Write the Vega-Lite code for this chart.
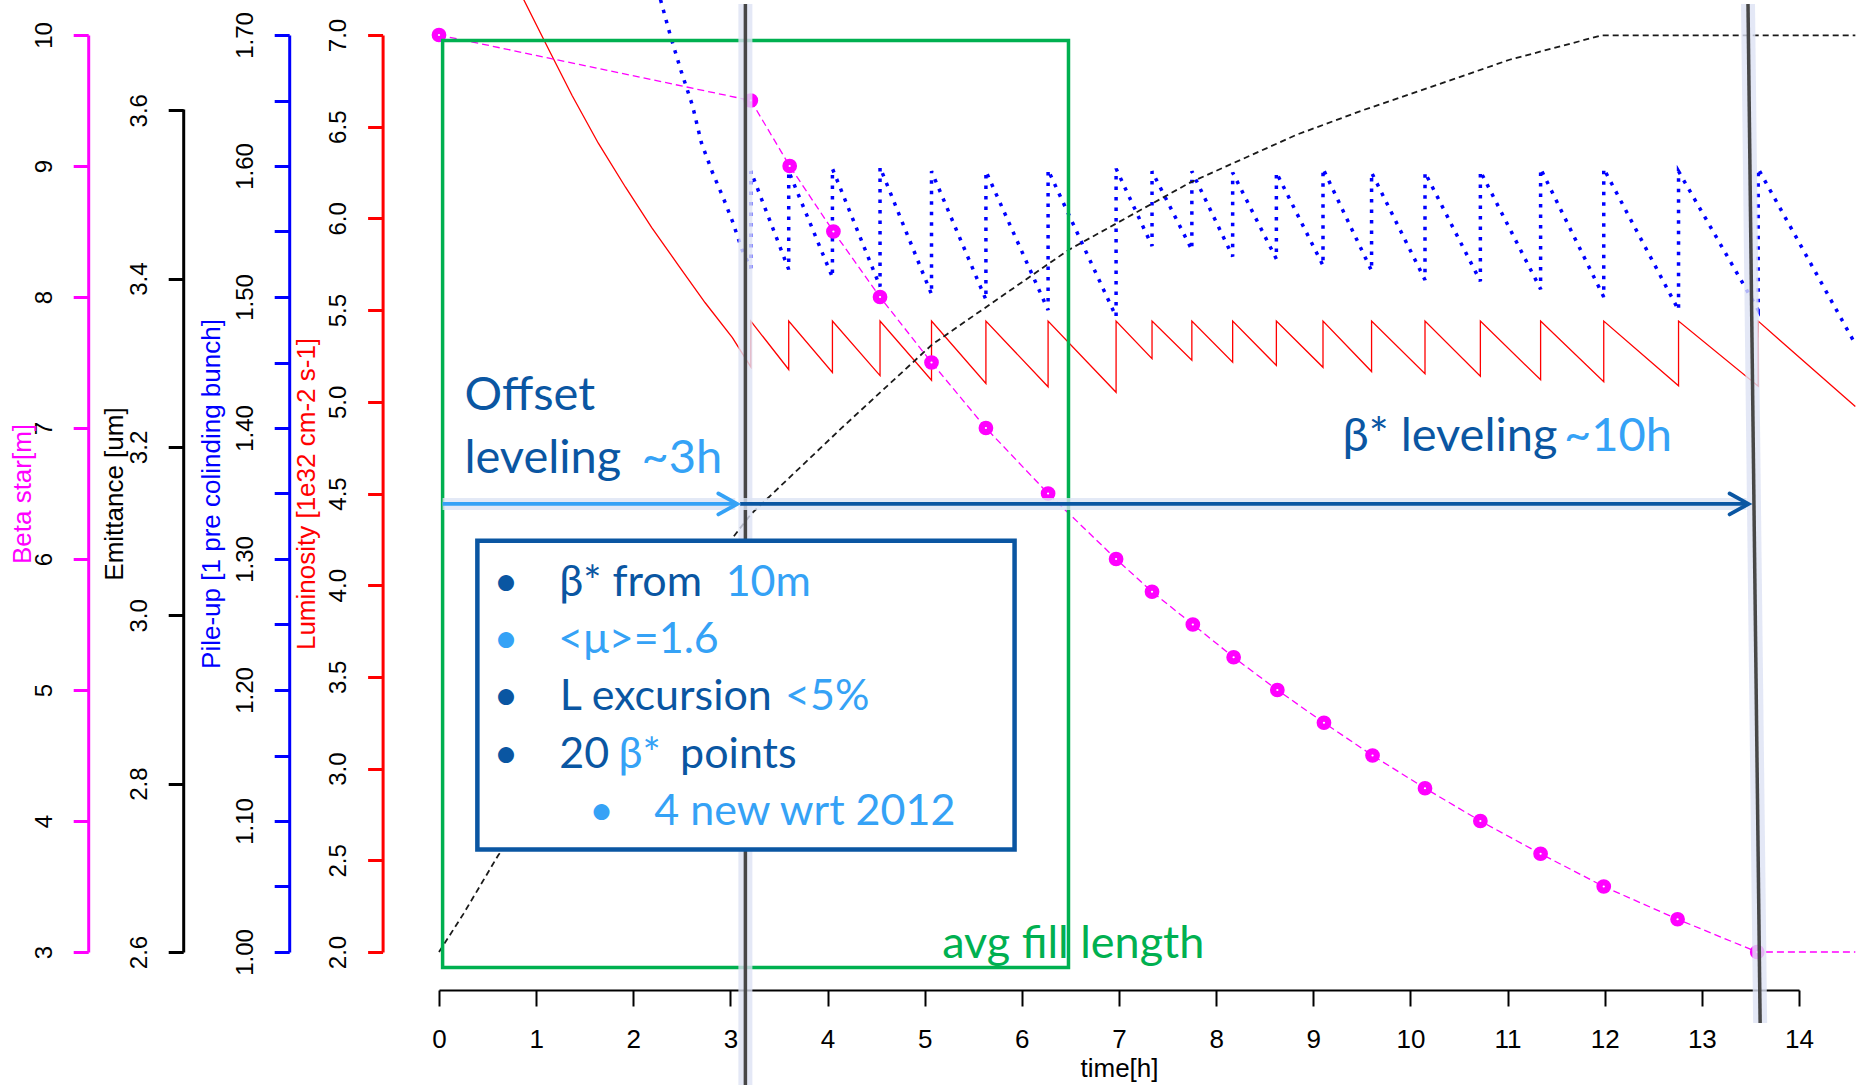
{
  "$schema": "https://vega.github.io/schema/vega-lite/v6.json",
  "width": 1360,
  "height": 917,
  "autosize": {"type": "none"},
  "padding": {"left": 439, "top": 35, "right": 67, "bottom": 133},
  "background": "white",
  "config": {
    "view": {"stroke": null},
    "axis": {"grid": false, "labelFont": "Liberation Sans", "titleFont": "Liberation Sans", "titleFontWeight": "normal"}
  },
  "datasets": {
    "red": [
      {"i":0,"t":0.87,"v":7.195},{"i":1,"t":1.14,"v":6.91},{"i":2,"t":1.37,"v":6.67},{"i":3,"t":1.64,"v":6.41},{"i":4,"t":1.92,"v":6.17},{"i":5,"t":2.19,"v":5.95},{"i":6,"t":2.47,"v":5.74},{"i":7,"t":2.74,"v":5.54},{"i":8,"t":3.02,"v":5.35},{"i":9,"t":3.21,"v":5.19},
      {"i":10,"t":3.21,"v":5.44},{"i":11,"t":3.60,"v":5.176},{"i":12,"t":3.60,"v":5.44},{"i":13,"t":4.05,"v":5.16},{"i":14,"t":4.05,"v":5.44},{"i":15,"t":4.54,"v":5.143},{"i":16,"t":4.54,"v":5.44},{"i":17,"t":5.07,"v":5.118},{"i":18,"t":5.07,"v":5.44},{"i":19,"t":5.63,"v":5.10},{"i":20,"t":5.63,"v":5.44},
      {"i":21,"t":6.27,"v":5.082},{"i":22,"t":6.27,"v":5.44},{"i":23,"t":6.97,"v":5.052},{"i":24,"t":6.97,"v":5.44},{"i":25,"t":7.34,"v":5.235},{"i":26,"t":7.34,"v":5.44},{"i":27,"t":7.75,"v":5.227},{"i":28,"t":7.75,"v":5.44},{"i":29,"t":8.17,"v":5.216},{"i":30,"t":8.17,"v":5.44},
      {"i":31,"t":8.62,"v":5.198},{"i":32,"t":8.62,"v":5.44},{"i":33,"t":9.10,"v":5.188},{"i":34,"t":9.10,"v":5.44},{"i":35,"t":9.60,"v":5.165},{"i":36,"t":9.60,"v":5.44},{"i":37,"t":10.15,"v":5.153},{"i":38,"t":10.15,"v":5.44},{"i":39,"t":10.72,"v":5.14},{"i":40,"t":10.72,"v":5.44},
      {"i":41,"t":11.34,"v":5.12},{"i":42,"t":11.34,"v":5.44},{"i":43,"t":11.99,"v":5.11},{"i":44,"t":11.99,"v":5.44},{"i":45,"t":12.76,"v":5.087},{"i":46,"t":12.76,"v":5.44},{"i":47,"t":13.58,"v":5.085},{"i":48,"t":13.58,"v":5.44},{"i":49,"t":14.58,"v":4.974}
    ],
    "blue": [
      {"i":0,"t":2.28,"v":1.727},{"i":1,"t":2.38,"v":1.700},{"i":2,"t":2.49,"v":1.673},{"i":3,"t":2.61,"v":1.646},{"i":4,"t":2.70,"v":1.618},{"i":5,"t":2.81,"v":1.596},{"i":6,"t":2.93,"v":1.575},{"i":7,"t":3.02,"v":1.558},{"i":8,"t":3.12,"v":1.536},{"i":9,"t":3.21,"v":1.522},
      {"i":10,"t":3.21,"v":1.596},{"i":11,"t":3.60,"v":1.521},{"i":12,"t":3.60,"v":1.596},{"i":13,"t":4.05,"v":1.515},{"i":14,"t":4.05,"v":1.598},{"i":15,"t":4.54,"v":1.508},{"i":16,"t":4.54,"v":1.599},{"i":17,"t":5.07,"v":1.502},{"i":18,"t":5.07,"v":1.596},{"i":19,"t":5.63,"v":1.498},{"i":20,"t":5.63,"v":1.596},
      {"i":21,"t":6.27,"v":1.490},{"i":22,"t":6.27,"v":1.597},{"i":23,"t":6.97,"v":1.485},{"i":24,"t":6.97,"v":1.598},{"i":25,"t":7.34,"v":1.539},{"i":26,"t":7.34,"v":1.596},{"i":27,"t":7.75,"v":1.536},{"i":28,"t":7.75,"v":1.596},{"i":29,"t":8.17,"v":1.531},{"i":30,"t":8.17,"v":1.595},
      {"i":31,"t":8.62,"v":1.529},{"i":32,"t":8.62,"v":1.595},{"i":33,"t":9.10,"v":1.524},{"i":34,"t":9.10,"v":1.598},{"i":35,"t":9.60,"v":1.520},{"i":36,"t":9.60,"v":1.595},{"i":37,"t":10.15,"v":1.513},{"i":38,"t":10.15,"v":1.595},{"i":39,"t":10.72,"v":1.512},{"i":40,"t":10.72,"v":1.596},
      {"i":41,"t":11.34,"v":1.506},{"i":42,"t":11.34,"v":1.598},{"i":43,"t":11.99,"v":1.500},{"i":44,"t":11.99,"v":1.598},{"i":45,"t":12.76,"v":1.490},{"i":46,"t":12.76,"v":1.596},{"i":47,"t":13.58,"v":1.490},{"i":48,"t":13.58,"v":1.598},{"i":49,"t":14.58,"v":1.464}
    ],
    "emit": [
      {"t":0,"v":2.6},{"t":0.25,"v":2.645},{"t":0.61,"v":2.715},{"t":3.01,"v":3.09},{"t":3.21,"v":3.12},{"t":4.14,"v":3.222},{"t":5.08,"v":3.322},{"t":6.48,"v":3.434},{"t":7.73,"v":3.514},{"t":8.83,"v":3.571},{"t":9.51,"v":3.60},{"t":10.27,"v":3.63},{"t":11.02,"v":3.66},{"t":11.97,"v":3.689},{"t":14.58,"v":3.689}
    ],
    "beta": [
      {"t":0,"v":10,"m":1},{"t":3.21,"v":9.5,"m":1},{"t":3.61,"v":9.0,"m":1},{"t":4.06,"v":8.5,"m":1},{"t":4.54,"v":8.0,"m":1},{"t":5.07,"v":7.5,"m":1},{"t":5.63,"v":7.0,"m":1},{"t":6.27,"v":6.5,"m":1},{"t":6.97,"v":6.0,"m":1},{"t":7.34,"v":5.75,"m":1},{"t":7.76,"v":5.5,"m":1},
      {"t":8.18,"v":5.25,"m":1},{"t":8.63,"v":5.0,"m":1},{"t":9.11,"v":4.75,"m":1},{"t":9.61,"v":4.5,"m":1},{"t":10.15,"v":4.25,"m":1},{"t":10.72,"v":4.0,"m":1},{"t":11.34,"v":3.75,"m":1},{"t":11.99,"v":3.5,"m":1},{"t":12.75,"v":3.25,"m":1},{"t":13.57,"v":3.0,"m":1},{"t":14.58,"v":3.0,"m":0}
    ],
    "frame": [{"t":0.037,"t2":6.48,"v":6.970,"v2":1.915}],
    "vlines": [{"t":3.154,"t2":3.154,"v":7.169,"v2":1.275},{"t":13.475,"t2":13.60,"v":7.169,"v2":1.613}],
    "arrows": [{"t":0.037,"t2":3.05,"v":4.443,"tone":"light"},{"t":3.10,"t2":13.46,"v":4.443,"tone":"dark"}],
    "heads": [{"t":3.07,"v":4.443,"tone":"light"},{"t":13.48,"v":4.443,"tone":"dark"}],
    "box": [{"t":0.395,"t2":5.925,"v":4.242,"v2":2.559}],
    "bigtext": [
      {"t":0.262,"v":4.955,"txt":"Offset","tone":"dark"},
      {"t":0.262,"v":4.611,"txt":"leveling","tone":"dark"},
      {"t":2.085,"v":4.611,"txt":"~3h","tone":"light"},
      {"t":9.30,"v":4.733,"txt":"β* leveling","tone":"dark"},
      {"t":11.58,"v":4.733,"txt":"~10h","tone":"light"}
    ],
    "boxtext": [
      {"t":1.238,"v":3.943,"txt":"β* from","tone":"dark"},
      {"t":2.951,"v":3.943,"txt":"10m","tone":"light"},
      {"t":1.227,"v":3.629,"txt":"<μ>=1.6","tone":"light"},
      {"t":1.244,"v":3.318,"txt":"L excursion","tone":"dark"},
      {"t":3.562,"v":3.318,"txt":"<5%","tone":"light"},
      {"t":1.238,"v":3.004,"txt":"20","tone":"dark"},
      {"t":1.849,"v":3.004,"txt":"β*","tone":"light"},
      {"t":2.482,"v":3.004,"txt":"points","tone":"dark"},
      {"t":2.216,"v":2.695,"txt":"4 new wrt 2012","tone":"light"}
    ],
    "bullets": [
      {"t":0.689,"v":3.943,"tone":"dark"},{"t":0.689,"v":3.629,"tone":"light"},{"t":0.689,"v":3.318,"tone":"dark"},{"t":0.689,"v":3.004,"tone":"dark"},{"t":1.673,"v":2.695,"tone":"light"}
    ],
    "green": [{"t":5.18,"v":1.968,"txt":"avg fill length"}]
  },
  "resolve": {"scale": {"y": "independent"}},
  "layer": [
    {
      "data": {"name": "red"},
      "mark": {"type": "line", "color": "#FF0000", "strokeWidth": 1.3},
      "encoding": {
        "x": {"field": "t", "type": "quantitative", "title": "time[h]", "scale": {"domain": [0, 14], "nice": false, "zero": false},
          "axis": {"orient": "bottom", "offset": 38, "values": [0,1,2,3,4,5,6,7,8,9,10,11,12,13,14], "format": ".0f",
            "tickSize": 16, "tickWidth": 2, "tickColor": "#000000", "domainColor": "#000000", "domainWidth": 2,
            "labelFontSize": 26, "labelColor": "#000000", "labelPadding": 20, "labelFlush": false, "labelOverlap": false,
            "title": "time[h]", "titleFontSize": 26, "titleColor": "#000000", "titleY": 86, "titleBaseline": "alphabetic"}},
        "y": {"field": "v", "type": "quantitative", "scale": {"domain": [2, 7], "nice": false, "zero": false},
          "axis": {"orient": "left", "offset": 56.4, "values": [2,2.5,3,3.5,4,4.5,5,5.5,6,6.5,7], "format": ".1f",
            "tickSize": 15, "tickWidth": 3, "tickColor": "#FF0000", "domainColor": "#FF0000", "domainWidth": 3,
            "labelAngle": 270, "labelAlign": "center", "labelBaseline": "middle", "labelPadding": 29, "labelFontSize": 24, "labelColor": "#000000", "labelFlush": false, "labelOverlap": false,
            "title": "Luminosity [1e32 cm-2 s-1]", "titleColor": "#FF0000", "titleFontSize": 26, "titleAngle": 270, "titleX": -67.7, "titleY": 458.5, "titleAlign": "center", "titleBaseline": "alphabetic"}},
        "order": {"field": "i", "type": "quantitative"}
      }
    },
    {
      "data": {"name": "blue"},
      "mark": {"type": "line", "color": "#0000FF", "strokeWidth": 3.5, "strokeDash": [3.5, 7]},
      "encoding": {
        "x": {"field": "t", "type": "quantitative", "title": "time[h]", "scale": {"domain": [0, 14], "nice": false, "zero": false}},
        "y": {"field": "v", "type": "quantitative", "scale": {"domain": [1.0, 1.7], "nice": false, "zero": false},
          "axis": {"orient": "left", "offset": 149.8, "values": [1.0,1.05,1.1,1.15,1.2,1.25,1.3,1.35,1.4,1.45,1.5,1.55,1.6,1.65,1.7],
            "labelExpr": "round(datum.value*20) % 2 == 0 ? format(datum.value, '.2f') : ''",
            "tickSize": 15, "tickWidth": 3, "tickColor": "#0000FF", "domainColor": "#0000FF", "domainWidth": 3,
            "labelAngle": 270, "labelAlign": "center", "labelBaseline": "middle", "labelPadding": 29, "labelFontSize": 24, "labelColor": "#000000", "labelFlush": false, "labelOverlap": false,
            "title": "Pile-up [1 pre colinding bunch]", "titleColor": "#0000FF", "titleFontSize": 26, "titleAngle": 270, "titleX": -69.3, "titleY": 458.5, "titleAlign": "center", "titleBaseline": "alphabetic"}},
        "order": {"field": "i", "type": "quantitative"}
      }
    },
    {
      "data": {"name": "emit"},
      "mark": {"type": "line", "color": "#1A1A1A", "strokeWidth": 1.8, "strokeDash": [6, 4]},
      "encoding": {
        "x": {"field": "t", "type": "quantitative", "title": "time[h]", "scale": {"domain": [0, 14], "nice": false, "zero": false}},
        "y": {"field": "v", "type": "quantitative", "scale": {"domain": [2.6, 3.6894], "nice": false, "zero": false},
          "axis": {"orient": "left", "offset": 255.8, "values": [2.6,2.8,3.0,3.2,3.4,3.6], "format": ".1f",
            "tickSize": 15, "tickWidth": 3, "tickColor": "#000000", "domainColor": "#000000", "domainWidth": 3, "domainDash": [843, 3000],
            "labelAngle": 270, "labelAlign": "center", "labelBaseline": "middle", "labelPadding": 29, "labelFontSize": 24, "labelColor": "#000000", "labelFlush": false, "labelOverlap": false,
            "title": "Emittance [um]", "titleColor": "#000000", "titleFontSize": 26, "titleAngle": 270, "titleX": -61, "titleY": 458.5, "titleAlign": "center", "titleBaseline": "alphabetic"}}
      }
    },
    {
      "data": {"name": "beta"},
      "mark": {"type": "line", "color": "#FF00FF", "strokeWidth": 1.3, "strokeDash": [7, 4]},
      "encoding": {
        "x": {"field": "t", "type": "quantitative", "title": "time[h]", "scale": {"domain": [0, 14], "nice": false, "zero": false}},
        "y": {"field": "v", "type": "quantitative", "scale": {"domain": [3, 10], "nice": false, "zero": false},
          "axis": {"orient": "left", "offset": 350.8, "values": [3,4,5,6,7,8,9,10], "format": ".0f",
            "tickSize": 15, "tickWidth": 3, "tickColor": "#FF00FF", "domainColor": "#FF00FF", "domainWidth": 3,
            "labelAngle": 270, "labelAlign": "center", "labelBaseline": "middle", "labelPadding": 29, "labelFontSize": 24, "labelColor": "#000000", "labelFlush": false, "labelOverlap": false,
            "title": "Beta star[m]", "titleColor": "#FF00FF", "titleFontSize": 26, "titleAngle": 270, "titleX": -57.3, "titleY": 458.5, "titleAlign": "center", "titleBaseline": "alphabetic"}}
      }
    },
    {
      "data": {"name": "beta"},
      "transform": [{"filter": "datum.m == 1"}],
      "mark": {"type": "point", "filled": true, "color": "#FF00FF", "size": 175, "opacity": 1, "stroke": "#FF00FF", "strokeWidth": 1.5},
      "encoding": {
        "x": {"field": "t", "type": "quantitative", "title": "time[h]", "scale": {"domain": [0, 14], "nice": false, "zero": false}},
        "y": {"field": "v", "type": "quantitative", "scale": {"domain": [3, 10], "nice": false, "zero": false}, "axis": null}
      }
    },
    {
      "data": {"name": "beta"},
      "transform": [{"filter": "datum.m == 1"}],
      "mark": {"type": "point", "filled": true, "color": "#FFFFFF", "size": 5, "opacity": 1},
      "encoding": {
        "x": {"field": "t", "type": "quantitative", "title": "time[h]", "scale": {"domain": [0, 14], "nice": false, "zero": false}},
        "y": {"field": "v", "type": "quantitative", "scale": {"domain": [3, 10], "nice": false, "zero": false}, "axis": null}
      }
    },
    {
      "data": {"name": "frame"},
      "mark": {"type": "rect", "fill": null, "fillOpacity": 0, "stroke": "#00B050", "strokeWidth": 3.5},
      "encoding": {
        "x": {"field": "t", "type": "quantitative", "title": "time[h]", "scale": {"domain": [0, 14], "nice": false, "zero": false}},
        "x2": {"field": "t2"},
        "y": {"field": "v", "type": "quantitative", "scale": {"domain": [2, 7], "nice": false, "zero": false}, "axis": null},
        "y2": {"field": "v2"}
      }
    },
    {
      "data": {"name": "vlines"},
      "mark": {"type": "rule", "color": "#DDE2F4", "strokeWidth": 14, "opacity": 0.8},
      "encoding": {
        "x": {"field": "t", "type": "quantitative", "title": "time[h]", "scale": {"domain": [0, 14], "nice": false, "zero": false}},
        "x2": {"field": "t2"},
        "y": {"field": "v", "type": "quantitative", "scale": {"domain": [2, 7], "nice": false, "zero": false}, "axis": null},
        "y2": {"field": "v2"}
      }
    },
    {
      "data": {"name": "vlines"},
      "mark": {"type": "rule", "color": "#474747", "strokeWidth": 3.5},
      "encoding": {
        "x": {"field": "t", "type": "quantitative", "title": "time[h]", "scale": {"domain": [0, 14], "nice": false, "zero": false}},
        "x2": {"field": "t2"},
        "y": {"field": "v", "type": "quantitative", "scale": {"domain": [2, 7], "nice": false, "zero": false}, "axis": null},
        "y2": {"field": "v2"}
      }
    },
    {
      "data": {"name": "arrows"},
      "mark": {"type": "rule", "color": "#DCE4F4", "strokeWidth": 12, "opacity": 0.8},
      "encoding": {
        "x": {"field": "t", "type": "quantitative", "title": "time[h]", "scale": {"domain": [0, 14], "nice": false, "zero": false}},
        "x2": {"field": "t2"},
        "y": {"field": "v", "type": "quantitative", "scale": {"domain": [2, 7], "nice": false, "zero": false}, "axis": null}
      }
    },
    {
      "data": {"name": "arrows"},
      "mark": {"type": "rule", "strokeWidth": 3.8},
      "encoding": {
        "x": {"field": "t", "type": "quantitative", "title": "time[h]", "scale": {"domain": [0, 14], "nice": false, "zero": false}},
        "x2": {"field": "t2"},
        "y": {"field": "v", "type": "quantitative", "scale": {"domain": [2, 7], "nice": false, "zero": false}, "axis": null},
        "color": {"field": "tone", "type": "nominal", "scale": {"domain": ["dark", "light"], "range": ["#0A56A2", "#35A2F6"]}, "legend": null}
      }
    },
    {
      "data": {"name": "heads"},
      "mark": {"type": "point", "shape": "M-1.8,-1L0,0L-1.8,1", "size": 440, "filled": false, "strokeWidth": 3.8, "opacity": 1, "strokeCap": "round"},
      "encoding": {
        "x": {"field": "t", "type": "quantitative", "title": "time[h]", "scale": {"domain": [0, 14], "nice": false, "zero": false}},
        "y": {"field": "v", "type": "quantitative", "scale": {"domain": [2, 7], "nice": false, "zero": false}, "axis": null},
        "color": {"field": "tone", "type": "nominal", "scale": {"domain": ["dark", "light"], "range": ["#0A56A2", "#35A2F6"]}, "legend": null}
      }
    },
    {
      "data": {"name": "box"},
      "mark": {"type": "rect", "fill": "#FFFFFF", "stroke": "#0A56A2", "strokeWidth": 4.5},
      "encoding": {
        "x": {"field": "t", "type": "quantitative", "title": "time[h]", "scale": {"domain": [0, 14], "nice": false, "zero": false}},
        "x2": {"field": "t2"},
        "y": {"field": "v", "type": "quantitative", "scale": {"domain": [2, 7], "nice": false, "zero": false}, "axis": null},
        "y2": {"field": "v2"}
      }
    },
    {
      "data": {"name": "bigtext"},
      "mark": {"type": "text", "align": "left", "baseline": "alphabetic", "font": "Lato", "fontSize": 47},
      "encoding": {
        "x": {"field": "t", "type": "quantitative", "title": "time[h]", "scale": {"domain": [0, 14], "nice": false, "zero": false}},
        "y": {"field": "v", "type": "quantitative", "scale": {"domain": [2, 7], "nice": false, "zero": false}, "axis": null},
        "text": {"field": "txt"},
        "color": {"field": "tone", "type": "nominal", "scale": {"domain": ["dark", "light"], "range": ["#0A56A2", "#35A2F6"]}, "legend": null}
      }
    },
    {
      "data": {"name": "boxtext"},
      "mark": {"type": "text", "align": "left", "baseline": "alphabetic", "font": "Lato", "fontSize": 43},
      "encoding": {
        "x": {"field": "t", "type": "quantitative", "title": "time[h]", "scale": {"domain": [0, 14], "nice": false, "zero": false}},
        "y": {"field": "v", "type": "quantitative", "scale": {"domain": [2, 7], "nice": false, "zero": false}, "axis": null},
        "text": {"field": "txt"},
        "color": {"field": "tone", "type": "nominal", "scale": {"domain": ["dark", "light"], "range": ["#0A56A2", "#35A2F6"]}, "legend": null}
      }
    },
    {
      "data": {"name": "bullets"},
      "mark": {"type": "text", "align": "center", "baseline": "alphabetic", "font": "Lato", "fontSize": 43, "text": "•"},
      "encoding": {
        "x": {"field": "t", "type": "quantitative", "title": "time[h]", "scale": {"domain": [0, 14], "nice": false, "zero": false}},
        "y": {"field": "v", "type": "quantitative", "scale": {"domain": [2, 7], "nice": false, "zero": false}, "axis": null},
        "color": {"field": "tone", "type": "nominal", "scale": {"domain": ["dark", "light"], "range": ["#0A56A2", "#35A2F6"]}, "legend": null}
      }
    },
    {
      "data": {"name": "green"},
      "mark": {"type": "text", "align": "left", "baseline": "alphabetic", "font": "Lato", "fontSize": 45, "color": "#00B050"},
      "encoding": {
        "x": {"field": "t", "type": "quantitative", "title": "time[h]", "scale": {"domain": [0, 14], "nice": false, "zero": false}},
        "y": {"field": "v", "type": "quantitative", "scale": {"domain": [2, 7], "nice": false, "zero": false}, "axis": null},
        "text": {"field": "txt"}
      }
    }
  ]
}
